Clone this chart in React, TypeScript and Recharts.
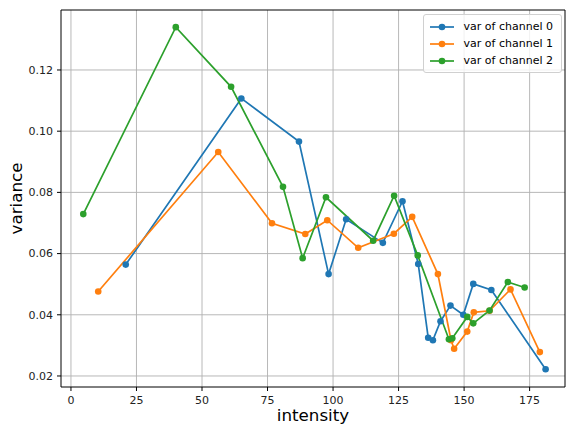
import { LineChart, Line, XAxis, YAxis, CartesianGrid, ReferenceLine } from "recharts";

const ch0X = [20.9, 65.0, 87.0, 98.3, 105.0, 119.0, 126.5, 132.5, 136.3, 138.1, 141.0, 144.8, 149.7, 153.5, 160.4, 181.1];
const ch0Y = [0.0564, 0.1107, 0.0966, 0.0533, 0.0712, 0.0635, 0.0771, 0.0566, 0.0325, 0.0317, 0.0379, 0.043, 0.04, 0.0501, 0.0481, 0.0222];

const ch1X = [10.4, 56.2, 76.7, 89.4, 97.8, 109.6, 123.2, 130.2, 140.0, 145.0, 146.2, 151.2, 153.7, 159.7, 167.7, 178.9];
const ch1Y = [0.0476, 0.0932, 0.0699, 0.0664, 0.0709, 0.0619, 0.0665, 0.072, 0.0533, 0.0317, 0.0289, 0.0345, 0.0408, 0.0413, 0.0483, 0.0278];

const ch2X = [4.7, 40.0, 61.1, 80.9, 88.4, 97.3, 115.3, 123.3, 132.3, 144.2, 145.5, 151.2, 153.5, 159.7, 166.7, 173.1];
const ch2Y = [0.0729, 0.134, 0.1145, 0.0818, 0.0585, 0.0784, 0.0642, 0.0789, 0.0594, 0.032, 0.0323, 0.0393, 0.0372, 0.0414, 0.0507, 0.0489];

const xTicks = [0, 25, 50, 75, 100, 125, 150, 175];
const yTicks = [0.02, 0.04, 0.06, 0.08, 0.1, 0.12];

const seriesNames = ["var of channel 0", "var of channel 1", "var of channel 2"];
const colors = ["#1f77b4", "#ff7f0e", "#2ca02c"];

const xDomain: [number, number] = [-3.8, 188.5];
const yDomain: [number, number] = [0.0164, 0.1396];

const toPoints = (xs: number[], ys: number[]) => xs.map((x, i) => ({ x, y: ys[i] }));
const series = [toPoints(ch0X, ch0Y), toPoints(ch1X, ch1Y), toPoints(ch2X, ch2Y)];

const font = "'DejaVu Sans', sans-serif";

function LegendBox() {
  return (
    <div
      style={{
        position: "absolute",
        top: 14,
        right: 4,
        border: "1px solid #d0d0d0",
        borderRadius: 3,
        background: "rgba(255,255,255,0.8)",
        padding: "3px 8px 3px 4px",
        fontFamily: font,
        fontSize: 11,
        color: "#000",
      }}
    >
      {seriesNames.map((name, i) => (
        <div key={name} style={{ display: "flex", alignItems: "center", height: 17 }}>
          <svg width={30} height={12} style={{ marginRight: 6 }}>
            <line x1={2} y1={6} x2={26} y2={6} stroke={colors[i]} strokeWidth={1.7} />
            <circle cx={14} cy={6} r={3.3} fill={colors[i]} />
          </svg>
          <span>{name}</span>
        </div>
      ))}
    </div>
  );
}

export default function App() {
  return (
    <div style={{ position: "absolute", left: 0, top: 0, width: 566, height: 430, background: "#fff" }}>
      <LineChart width={566} height={430} margin={{ top: 10, right: 1, left: 0, bottom: 0 }}>
        <CartesianGrid xAxisId="bottom" yAxisId="left" stroke="#b0b0b0" strokeWidth={0.9} horizontalValues={yTicks} verticalValues={xTicks} />
        <XAxis
          xAxisId="bottom"
          dataKey="x"
          type="number"
          domain={xDomain}
          ticks={xTicks}
          allowDataOverflow
          height={43}
          stroke="#000"
          tickSize={4}
          tickMargin={5}
          tick={{ fill: "#222", fontSize: 11, fontFamily: font }}
          label={(props: any) => {
            const vb = props.viewBox || {};
            return (
              <text x={vb.x + vb.width / 2} y={421} textAnchor="middle" fill="#000" fontSize={16.7} fontFamily={font}>
                intensity
              </text>
            );
          }}
        />
        <YAxis
          yAxisId="left"
          dataKey="y"
          type="number"
          domain={yDomain}
          ticks={yTicks}
          allowDataOverflow
          width={61}
          stroke="#000"
          tickSize={4}
          tickMargin={4}
          tickFormatter={(v: number) => v.toFixed(2)}
          tick={{ fill: "#222", fontSize: 11, fontFamily: font }}
          label={(props: any) => {
            const vb = props.viewBox || {};
            const cy = vb.y + vb.height / 2;
            return (
              <text x={22} y={cy} transform={`rotate(-90, 22, ${cy})`} textAnchor="middle" fill="#000" fontSize={16.7} fontFamily={font}>
                variance
              </text>
            );
          }}
        />
        <ReferenceLine xAxisId="bottom" yAxisId="left" x={xDomain[1]} stroke="#000" strokeWidth={1} />
        <ReferenceLine xAxisId="bottom" yAxisId="left" y={yDomain[1]} stroke="#000" strokeWidth={1} />
        {series.map((data, i) => (
          <Line
            key={seriesNames[i]}
            xAxisId="bottom"
            yAxisId="left"
            data={data}
            dataKey="y"
            name={seriesNames[i]}
            stroke={colors[i]}
            strokeWidth={1.7}
            dot={{ r: 3.3, fill: colors[i], stroke: colors[i], strokeWidth: 0 }}
            activeDot={false}
            isAnimationActive={false}
          />
        ))}
      </LineChart>
      <LegendBox />
    </div>
  );
}
